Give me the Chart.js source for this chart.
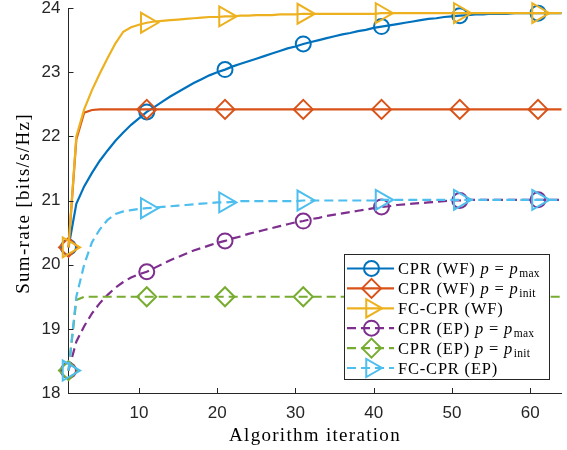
<!DOCTYPE html>
<html>
<head>
<meta charset="utf-8">
<script src="https://cdn.jsdelivr.net/npm/chart.js@4.4.1/dist/chart.umd.min.js"></script>
<style>
  html, body { margin: 0; padding: 0; background: #ffffff; }
  #wrap { position: relative; width: 567px; height: 450px; }
</style>
</head>
<body>
<div id="wrap"><canvas id="c"></canvas></div>
<script>
// ---------------- data ----------------
const iterations = Array.from({length: 64}, (_, i) => i + 1);

const cprWfMax = [
  20.27, 20.95, 21.22, 21.43, 21.62, 21.78, 21.93, 22.06, 22.18, 22.28,
  22.38, 22.46, 22.54, 22.62, 22.69, 22.76, 22.83, 22.89, 22.95, 23.00,
  23.04, 23.09, 23.13, 23.17, 23.21, 23.25, 23.29, 23.33, 23.37, 23.40,
  23.44, 23.47, 23.50, 23.53, 23.56, 23.59, 23.61, 23.64, 23.66, 23.69,
  23.71, 23.73, 23.75, 23.77, 23.79, 23.81, 23.83, 23.84, 23.86, 23.87,
  23.88, 23.89, 23.90, 23.90, 23.91, 23.91, 23.91, 23.92, 23.92, 23.92,
  23.92, 23.92, 23.92, 23.92
];

const cprWfInit = [
  20.27, 21.95, 22.37, 22.41, 22.42, 22.42, 22.42, 22.42, 22.42, 22.42,
  22.42, 22.42, 22.42, 22.42, 22.42, 22.42, 22.42, 22.42, 22.42, 22.42,
  22.42, 22.42, 22.42, 22.42, 22.42, 22.42, 22.42, 22.42, 22.42, 22.42,
  22.42, 22.42, 22.42, 22.42, 22.42, 22.42, 22.42, 22.42, 22.42, 22.42,
  22.42, 22.42, 22.42, 22.42, 22.42, 22.42, 22.42, 22.42, 22.42, 22.42,
  22.42, 22.42, 22.42, 22.42, 22.42, 22.42, 22.42, 22.42, 22.42, 22.42,
  22.42, 22.42, 22.42, 22.42
];

const fcCprWf = [
  20.27, 22.00, 22.42, 22.72, 22.98, 23.22, 23.45, 23.63, 23.70, 23.74,
  23.77, 23.79, 23.80, 23.81, 23.82, 23.83, 23.84, 23.85, 23.86, 23.86,
  23.87, 23.87, 23.88, 23.88, 23.89, 23.89, 23.89, 23.90, 23.90, 23.90,
  23.91, 23.91, 23.91, 23.91, 23.91, 23.91, 23.91, 23.91, 23.91, 23.91,
  23.92, 23.92, 23.92, 23.92, 23.92, 23.92, 23.92, 23.92, 23.92, 23.92,
  23.92, 23.92, 23.92, 23.92, 23.92, 23.92, 23.92, 23.92, 23.92, 23.92,
  23.92, 23.92, 23.92, 23.92
];

const cprEpMax = [
  18.35, 18.80, 19.04, 19.24, 19.40, 19.53, 19.64, 19.73, 19.80, 19.85,
  19.89, 19.95, 20.01, 20.07, 20.12, 20.17, 20.22, 20.26, 20.30, 20.34,
  20.37, 20.41, 20.44, 20.48, 20.51, 20.54, 20.57, 20.60, 20.63, 20.66,
  20.68, 20.71, 20.73, 20.76, 20.78, 20.80, 20.82, 20.84, 20.86, 20.88,
  20.90, 20.91, 20.93, 20.94, 20.95, 20.96, 20.97, 20.98, 20.99, 21.00,
  21.00, 21.01, 21.01, 21.01, 21.01, 21.01, 21.01, 21.01, 21.01, 21.01,
  21.01, 21.01, 21.01, 21.01
];

const cprEpInit = [
  18.35, 19.45, 19.50, 19.50, 19.50, 19.50, 19.50, 19.50, 19.50, 19.50,
  19.50, 19.50, 19.50, 19.50, 19.50, 19.50, 19.50, 19.50, 19.50, 19.50,
  19.50, 19.50, 19.50, 19.50, 19.50, 19.50, 19.50, 19.50, 19.50, 19.50,
  19.50, 19.50, 19.50, 19.50, 19.50, 19.50, 19.50, 19.50, 19.50, 19.50,
  19.50, 19.50, 19.50, 19.50, 19.50, 19.50, 19.50, 19.50, 19.50, 19.50,
  19.50, 19.50, 19.50, 19.50, 19.50, 19.50, 19.50, 19.50, 19.50, 19.50,
  19.50, 19.50, 19.50, 19.50
];

const fcCprEp = [
  18.35, 19.50, 20.00, 20.35, 20.55, 20.70, 20.79, 20.83, 20.85, 20.87,
  20.88, 20.89, 20.90, 20.91, 20.92, 20.93, 20.94, 20.95, 20.96, 20.97,
  20.97, 20.98, 20.99, 20.99, 20.99, 20.99, 20.99, 20.99, 20.99, 20.99,
  21.00, 21.00, 21.00, 21.00, 21.00, 21.00, 21.00, 21.00, 21.00, 21.00,
  21.01, 21.01, 21.01, 21.01, 21.01, 21.01, 21.01, 21.01, 21.01, 21.01,
  21.01, 21.01, 21.01, 21.01, 21.01, 21.01, 21.01, 21.01, 21.01, 21.01,
  21.01, 21.01, 21.01, 21.01
];

const xTickValues = [10, 20, 30, 40, 50, 60];
const yTickValues = [18, 19, 20, 21, 22, 23, 24];
const xTitle = 'Algorithm iteration';
const yTitle = 'Sum-rate [bits/s/Hz]';

const seriesNames = [
  {base: 'CPR (WF)', sub: 'max'},
  {base: 'CPR (WF)', sub: 'init'},
  {base: 'FC-CPR (WF)', sub: null},
  {base: 'CPR (EP)', sub: 'max'},
  {base: 'CPR (EP)', sub: 'init'},
  {base: 'FC-CPR (EP)', sub: null}
];
const seriesValues = [cprWfMax, cprWfInit, fcCprWf, cprEpMax, cprEpInit, fcCprEp];

// ---------------- styles ----------------
const colors = ['#0072BD', '#D95319', '#EDB120', '#7E2F8E', '#77AC30', '#4DBEEE'];
const markers = [
  {style: 'circle', r: 7.5, rot: 0},
  {style: 'rectRot', r: 9.5, rot: 0},
  {style: 'triangle', r: 11.5, rot: 90},
  {style: 'circle', r: 7.5, rot: 0},
  {style: 'rectRot', r: 9.5, rot: 0},
  {style: 'triangle', r: 11.5, rot: 90}
];
const dashed = [false, false, false, true, true, true];
const DASH = [9, 5];
const LINE_W = 2.2;
const AXIS_COLOR = '#262626';
const SERIF = '"Liberation Serif", "DejaVu Serif", serif';

const datasets = seriesValues.map((vals, i) => ({
  label: seriesNames[i].base + (seriesNames[i].sub ? ' p = p_' + seriesNames[i].sub : ''),
  data: iterations.map((it, k) => ({x: it, y: vals[k]})),
  borderColor: colors[i],
  backgroundColor: 'rgba(0,0,0,0)',
  borderWidth: LINE_W,
  borderDash: dashed[i] ? DASH : [],
  tension: 0,
  pointStyle: markers[i].style,
  pointRotation: markers[i].rot,
  pointRadius: (ctx) => (ctx.dataIndex % 10 === 0 ? markers[i].r : 0),
  pointHoverRadius: 0,
  pointBorderWidth: 2,
  pointBorderColor: colors[i],
  pointBackgroundColor: 'rgba(0,0,0,0)',
  clip: false,
  order: 10 - i
}));

// inward ticks plugin
const inwardTicks = {
  id: 'inwardTicks',
  afterDatasetsDraw(chart) {
    const ctx = chart.ctx;
    const xs = chart.scales.x, ys = chart.scales.y;
    const a = chart.chartArea;
    ctx.save();
    ctx.strokeStyle = AXIS_COLOR;
    ctx.lineWidth = 1;
    ctx.beginPath();
    xs.ticks.forEach(t => {
      const px = Math.round(xs.getPixelForValue(t.value)) + 0.5;
      ctx.moveTo(px, a.bottom);
      ctx.lineTo(px, a.bottom - 5);
    });
    ys.ticks.forEach(t => {
      const py = Math.round(ys.getPixelForValue(t.value)) + 0.5;
      ctx.moveTo(a.left, py);
      ctx.lineTo(a.left + 5, py);
    });
    ctx.stroke();
    ctx.restore();
  }
};

// axis titles (LaTeX-like serif, wider tracking)
const axisTitles = {
  id: 'axisTitles',
  afterDraw(chart) {
    const ctx = chart.ctx;
    const a = chart.chartArea;
    ctx.save();
    ctx.fillStyle = '#000000';
    ctx.textAlign = 'center';
    ctx.textBaseline = 'middle';
    ctx.font = '19px ' + SERIF;
    ctx.letterSpacing = '1.3px';
    ctx.fillText(xTitle, (a.left + a.right) / 2, 436);
    ctx.translate(24, (a.top + a.bottom) / 2 + 3);
    ctx.rotate(-Math.PI / 2);
    ctx.letterSpacing = '1.3px';
    ctx.fillText(yTitle, 0, 0);
    ctx.restore();
  }
};

// custom legend (MATLAB style with LaTeX-like math)
const mathLegend = {
  id: 'mathLegend',
  afterDraw(chart) {
    const ctx = chart.ctx;
    const box = {left: 344.5, top: 254.5, right: 549.5, bottom: 379.5};
    ctx.save();
    ctx.fillStyle = '#ffffff';
    ctx.fillRect(box.left, box.top, box.right - box.left, box.bottom - box.top);
    ctx.strokeStyle = AXIS_COLOR;
    ctx.lineWidth = 1;
    ctx.strokeRect(box.left, box.top, box.right - box.left, box.bottom - box.top);

    const rowY0 = 268.5, rowStep = 19.9;
    chart.data.datasets.forEach((ds, i) => {
      const y = rowY0 + i * rowStep;
      ctx.save();
      ctx.strokeStyle = colors[i];
      ctx.lineWidth = LINE_W;
      ctx.setLineDash(dashed[i] ? DASH : []);
      ctx.beginPath();
      ctx.moveTo(347, y);
      ctx.lineTo(394, y);
      ctx.stroke();
      ctx.setLineDash([]);
      ctx.fillStyle = 'rgba(0,0,0,0)';
      ctx.strokeStyle = colors[i];
      ctx.lineWidth = 2;
      Chart.helpers.drawPoint(ctx, {
        pointStyle: markers[i].style,
        radius: markers[i].style === 'triangle' ? 10.5 : markers[i].r,
        rotation: markers[i].rot,
        borderWidth: 2
      }, 371.5, y);
      ctx.restore();

      // text
      ctx.fillStyle = '#000000';
      ctx.textBaseline = 'alphabetic';
      ctx.textAlign = 'left';
      ctx.letterSpacing = '0.8px';
      const base = y + 5.5;
      let x = 398;
      const nm = seriesNames[i];
      ctx.font = '16.5px ' + SERIF;
      ctx.fillText(nm.base, x, base);
      x += ctx.measureText(nm.base).width;
      if (nm.sub) {
        x += 5;
        ctx.font = 'italic 16.5px ' + SERIF;
        ctx.fillText('p', x, base);
        x += ctx.measureText('p').width + 5;
        ctx.font = '16.5px ' + SERIF;
        ctx.fillText('=', x, base);
        x += ctx.measureText('=').width + 5;
        ctx.font = 'italic 16.5px ' + SERIF;
        ctx.fillText('p', x, base);
        x += ctx.measureText('p').width;
        ctx.font = '11.5px ' + SERIF;
        ctx.letterSpacing = '0.3px';
        ctx.fillText(nm.sub, x + 0.5, base + 3);
      }
    });
    ctx.restore();
  }
};

const tickFont = {family: '"Liberation Sans", Arial, sans-serif', size: 17};

const zeroPad = (s) => { s.paddingTop = 0; s.paddingBottom = 0; s.paddingLeft = 0; s.paddingRight = 0; };

new Chart(document.getElementById('c'), {
  type: 'line',
  data: {datasets},
  options: {
    responsive: true,
    maintainAspectRatio: false,
    animation: false,
    events: [],
    layout: {autoPadding: false, padding: {top: 8, right: 5.5, bottom: 0, left: 0}},
    plugins: {legend: {display: false}, tooltip: {enabled: false}},
    scales: {
      x: {
        type: 'linear',
        min: 1,
        max: 64,
        afterBuildTicks: (s) => { s.ticks = xTickValues.map(v => ({value: v})); },
        afterFit: (s) => { s.height = 57; zeroPad(s); },
        grid: {drawOnChartArea: false, drawTicks: false},
        border: {display: true, color: AXIS_COLOR, width: 1},
        ticks: {font: tickFont, color: AXIS_COLOR, padding: 10, maxRotation: 0, autoSkip: false},
        title: {display: false}
      },
      y: {
        type: 'linear',
        min: 18,
        max: 24,
        afterBuildTicks: (s) => { s.ticks = yTickValues.map(v => ({value: v})); },
        afterFit: (s) => { s.width = 68.5; zeroPad(s); },
        grid: {drawOnChartArea: false, drawTicks: false},
        border: {display: true, color: AXIS_COLOR, width: 1},
        ticks: {font: tickFont, color: AXIS_COLOR, padding: 8},
        title: {display: false}
      }
    }
  },
  plugins: [inwardTicks, axisTitles, mathLegend]
});
</script>
</body>
</html>
